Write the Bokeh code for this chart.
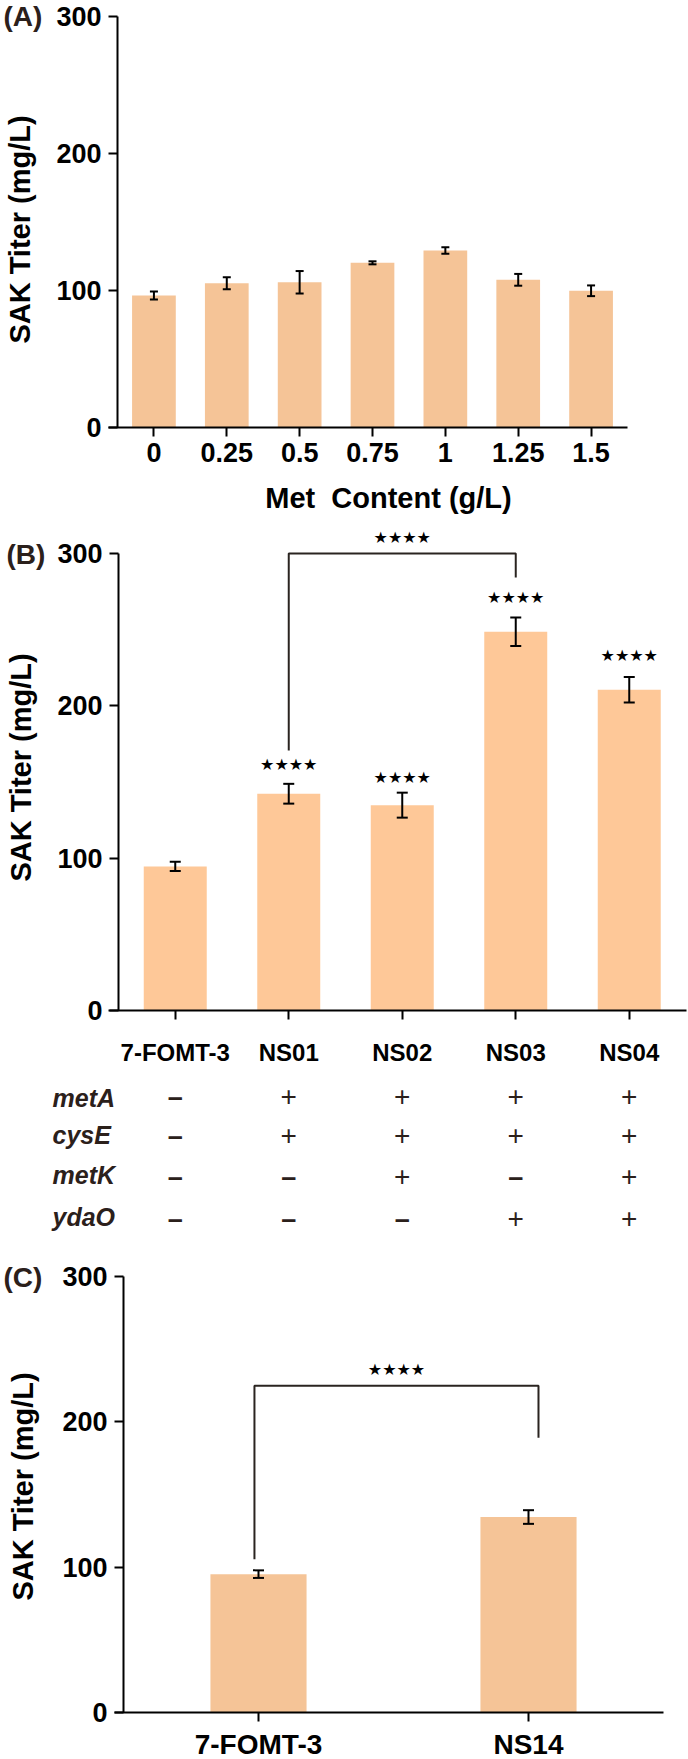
import math
from bokeh.plotting import figure
from bokeh.models import ColumnDataSource, Whisker, TeeHead, Label, FixedTicker
from bokeh.layouts import column
from bokeh.embed import file_html
from bokeh.resources import INLINE
from bokeh.core.properties import value

# ---------------- data ----------------
y_ticks = [0, 100, 200, 300]

met_content = ["0", "0.25", "0.5", "0.75", "1", "1.25", "1.5"]
titer_a = [96.4, 105.3, 106.0, 120.2, 129.2, 107.8, 99.8]
sd_a = [2.9, 4.3, 8.2, 1.1, 2.4, 4.3, 3.9]

strains_b = ["7-FOMT-3", "NS01", "NS02", "NS03", "NS04"]
titer_b = [94.6, 142.3, 134.8, 248.6, 210.6]
sd_b = [3.0, 6.5, 8.2, 9.4, 8.4]
sig_b = ["", "★★★★", "★★★★", "★★★★", "★★★★"]
sig_b_y = [0, 161.5, 153.0, 271.0, 233.0]
bracket_b_x = [1, 3]
bracket_b_y = [170.7, 300.0, 284.3]   # left foot, top, right foot
bracket_b_star_y = 310.5

genes = ["metA", "cysE", "metK", "ydaO"]
metA = [0, 1, 1, 1, 1]
cysE = [0, 1, 1, 1, 1]
metK = [0, 0, 1, 0, 1]
ydaO = [0, 0, 0, 1, 1]
gene_rows = [metA, cysE, metK, ydaO]

strains_c = ["7-FOMT-3", "NS14"]
titer_c = [95.2, 134.5]
sd_c = [2.6, 4.7]
bracket_c_x = [-0.015, 1.037]
bracket_c_y = [105.5, 224.8, 189.0]
bracket_c_star_y = 236.0

# ---------------- style ----------------
FONT = "Liberation Sans"
STAR_FONT = "DejaVu Sans"
INK = "#000000"
BROWN = "#2b201b"
BAR_A = "#F5C497"
BAR_B = "#FEC898"
BAR_C = "#F5C497"
PAGE_LEFT, PAGE_RIGHT = 0, 688
YLABEL_SIZE = 29


class Geo:
    """page-pixel geometry of a panel's plotting area, used to place text."""
    def __init__(self, axis_left, axis_bottom, px_x, px_y):
        self.fl, self.fb, self.sx, self.sy = axis_left, axis_bottom, px_x, px_y

    def x(self, page_x):
        return -0.5 + (page_x - self.fl) / self.sx

    def y(self, page_y):
        return (self.fb - page_y) / self.sy


def base_fig(g, page_top, page_bottom, n, xaxis_from, xaxis_to,
             tick_font, label_standoff_x):
    p = figure(x_range=(g.x(PAGE_LEFT), g.x(PAGE_RIGHT)),
               y_range=(g.y(page_bottom), g.y(page_top)),
               frame_width=PAGE_RIGHT - PAGE_LEFT,
               frame_height=page_bottom - page_top,
               min_border=0, output_backend="svg",
               toolbar_location=None, tools="")
    p.outline_line_color = None
    p.xgrid.visible = False
    p.ygrid.visible = False
    p.background_fill_color = "white"
    p.border_fill_color = "white"
    p.xaxis.fixed_location = 0
    p.yaxis.fixed_location = -0.5
    p.yaxis.bounds = (0, 300)
    p.xaxis.bounds = (g.x(xaxis_from), g.x(xaxis_to))
    p.yaxis.ticker = FixedTicker(ticks=y_ticks)
    p.xaxis.ticker = FixedTicker(ticks=list(range(n)))
    for ax in (p.xaxis[0], p.yaxis[0]):
        ax.axis_line_width = 2
        ax.axis_line_color = INK
        ax.major_tick_line_width = 2
        ax.major_tick_line_color = INK
        ax.major_tick_out = 9
        ax.major_tick_in = 0
        ax.minor_tick_line_color = None
        ax.major_label_text_font = FONT
        ax.major_label_text_font_style = "bold"
        ax.major_label_text_color = INK
    p.yaxis.major_label_text_font_size = "27px"
    p.yaxis.major_label_standoff = 7
    p.xaxis.major_label_text_font_size = tick_font
    p.xaxis.major_label_standoff = label_standoff_x
    return p


def add_bars(p, vals, sds, width, color, cap):
    src = ColumnDataSource(dict(
        x=list(range(len(vals))), top=vals,
        upper=[v + s for v, s in zip(vals, sds)],
        lower=[v - s for v, s in zip(vals, sds)]))
    p.vbar(x="x", top="top", width=width, source=src,
           fill_color=color, line_color=None)
    w = Whisker(source=src, base="x", upper="upper", lower="lower",
                line_width=2, line_color=INK, level="overlay",
                upper_head=TeeHead(size=cap, line_width=2, line_color=INK),
                lower_head=TeeHead(size=cap, line_width=2, line_color=INK))
    p.add_layout(w)


def txt(p, x, y, text, size, style="bold", color=INK, align="left",
        angle=0.0, font=FONT):
    p.add_layout(Label(x=x, y=y, text=text, text_font=font,
                       text_font_size=f"{size}px", text_font_style=style,
                       text_color=color, text_align=align,
                       text_baseline="middle", angle=angle))


def txt_base(p, g, page_x, base_page_y, text, size, **kw):
    """place text by its alphabetic baseline (page px) using middle anchoring"""
    txt(p, g.x(page_x), g.y(base_page_y - 0.347 * size), text, size, **kw)


def bracket(p, xs, ys, star_y, color="#2a2420"):
    p.line(x=[xs[0], xs[0], xs[1], xs[1]], y=[ys[0], ys[1], ys[1], ys[2]],
           line_width=2, line_color=color)
    p.text(x=[(xs[0] + xs[1]) / 2], y=[star_y], text=["★★★★"],
           text_font=value(STAR_FONT), text_font_size="16px",
           text_align="center", text_baseline="middle", text_color=INK)


# ---------------- panel A (page y 0..522) ----------------
gA = Geo(117, 427, 510 / 7, 411 / 300)
pA = base_fig(gA, 0, 522, 7, 108, 627, "27px", 6)
pA.xaxis.major_label_overrides = {i: s for i, s in enumerate(met_content)}
add_bars(pA, titer_a, sd_a, 0.6, BAR_A, 8)
txt_base(pA, gA, 3, 26, "(A)", 28, color=BROWN)
txt(pA, gA.x(19), gA.y(229), "SAK Titer (mg/L)", YLABEL_SIZE, align="center",
    angle=math.pi / 2)
txt_base(pA, gA, 388, 508, "Met\u00a0 Content (g/L)", 29, align="center")

# ---------------- panel B (page y 522..1236) ----------------
gB = Geo(118, 1010, 113.5, 457 / 300)
pB = base_fig(gB, 522, 1236, 5, 108, 686, "24px", 19)
pB.xaxis.major_label_overrides = {i: s for i, s in enumerate(strains_b)}
add_bars(pB, titer_b, sd_b, 0.555, BAR_B, 11)
pB.text(x=[i for i, s in enumerate(sig_b) if s],
        y=[sig_b_y[i] for i, s in enumerate(sig_b) if s],
        text=[s for s in sig_b if s], text_font=value(STAR_FONT),
        text_font_size="16px", text_align="center", text_baseline="middle",
        text_color=INK)
bracket(pB, bracket_b_x, bracket_b_y, bracket_b_star_y)
txt_base(pB, gB, 6, 564, "(B)", 28, color=BROWN)
txt(pB, gB.x(20), gB.y(767), "SAK Titer (mg/L)", YLABEL_SIZE, align="center",
    angle=math.pi / 2)
row_base = [1106, 1143, 1183, 1225]
row_mid = [1096, 1135, 1176, 1218]
for gene, row, base_y, mid_y in zip(genes, gene_rows, row_base, row_mid):
    txt_base(pB, gB, 52, base_y, gene, 25, style="bold italic", color=BROWN)
    for i, on in enumerate(row):
        if on:
            txt(pB, i, gB.y(mid_y), "+", 28, style="normal", color=BROWN,
                align="center")
        else:
            txt(pB, i, gB.y(mid_y), "\u2013", 27, style="bold", color=BROWN,
                align="center")

# ---------------- panel C (page y 1236..1759) ----------------
gC = Geo(123, 1712, 270, 436 / 300)
pC = base_fig(gC, 1236, 1759, 2, 114, 663, "28px", 7)
pC.xaxis.major_label_overrides = {i: s for i, s in enumerate(strains_c)}
add_bars(pC, titer_c, sd_c, 0.356, BAR_C, 11)
bracket(pC, bracket_c_x, bracket_c_y, bracket_c_star_y)
txt_base(pC, gC, 3, 1287, "(C)", 28, color=BROWN)
txt(pC, gC.x(22), gC.y(1486), "SAK Titer (mg/L)", YLABEL_SIZE, align="center",
    angle=math.pi / 2)

layout = column(pA, pB, pC, spacing=0)
open("out.html", "w").write(file_html(layout, INLINE))
